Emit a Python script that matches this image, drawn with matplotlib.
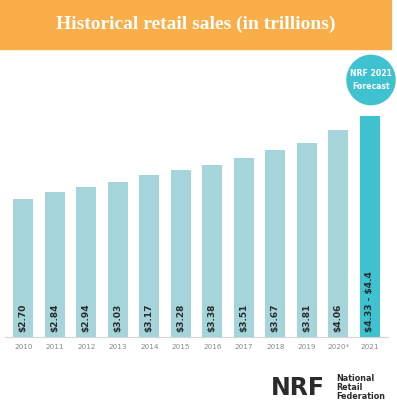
import matplotlib
matplotlib.use("Agg")
import matplotlib.pyplot as plt
from matplotlib.patches import Rectangle, Circle

# ── Data ──────────────────────────────────────────────────────────────────────
years  = ["2010", "2011", "2012", "2013", "2014", "2015",
          "2016", "2017", "2018", "2019", "2020*", "2021"]
sales  = [2.70, 2.84, 2.94, 3.03, 3.17, 3.28, 3.38, 3.51, 3.67, 3.81, 4.06, 4.33]
labels = [r"\$2.70", r"\$2.84", r"\$2.94", r"\$3.03", r"\$3.17", r"\$3.28",
          r"\$3.38", r"\$3.51", r"\$3.67", r"\$3.81", r"\$4.06", r"\$4.33 - \$4.4"]

HIST_COLOR = "#A5D4DA"
FCST_COLOR = "#3EC2CF"
ORANGE     = "#F9AE4A"

W, H = 397, 408
fig = plt.figure(figsize=(W / 100, H / 100), dpi=100)
fig.patch.set_facecolor("white")

# ── Title banner ──────────────────────────────────────────────────────────────
fig.patches.append(Rectangle((0, 1 - 49 / H), 391 / W, 49 / H,
                             transform=fig.transFigure, color=ORANGE, zorder=0))
fig.text(196 / W, 1 - 24 / H, "Historical retail sales (in trillions)",
         ha="center", va="center", color="white", fontsize=14,
         fontweight="bold", family="Liberation Serif")

# ── Bars ──────────────────────────────────────────────────────────────────────
# axes spans x 5..388 px, y baseline 337 px
ax = fig.add_axes([5 / W, (H - 337) / H, 383 / W, 250 / H])
x = list(range(len(years)))
colors = [HIST_COLOR] * (len(years) - 1) + [FCST_COLOR]
ax.bar(x, sales, width=0.625, color=colors)
ax.set_xlim(-0.58, len(years) - 0.42)
ax.set_ylim(0, 250 / 51)

for xi, lab in zip(x, labels):
    ax.text(xi, 0.1, lab, rotation=90, ha="center", va="bottom",
            fontsize=6.5, fontweight="bold", color="#2A2A2A")

ax.set_xticks(x)
ax.set_xticklabels(years, fontsize=5.2, color="#888888")
ax.tick_params(axis="x", length=0, pad=5)
ax.set_yticks([])
for s in ["top", "right", "left"]:
    ax.spines[s].set_visible(False)
ax.spines["bottom"].set_color("#D5D5D5")
ax.spines["bottom"].set_linewidth(0.8)
ax.set_facecolor("none")

# ── Forecast badge ────────────────────────────────────────────────────────────
fig.patches.append(Circle((371 / W, 1 - 80 / H), 24 / W,
                          transform=fig.transFigure, color=FCST_COLOR))
fig.text(371 / W, 1 - 80 / H, "NRF 2021\nForecast", ha="center", va="center",
         color="white", fontsize=5.6, fontweight="bold", linespacing=1.45)

# ── NRF logo ──────────────────────────────────────────────────────────────────
fig.text(271 / W, 1 - 388 / H, "NRF", ha="left", va="center",
         fontsize=17, fontweight="bold", color="#2B2B2E", family="DejaVu Sans")
fig.text(336 / W, 1 - 387.5 / H, "National\nRetail\nFederation", ha="left",
         va="center", fontsize=5.8, fontweight="bold", color="#2B2B2E",
         linespacing=0.95)

fig.savefig("out.png", dpi=100, facecolor="white")
